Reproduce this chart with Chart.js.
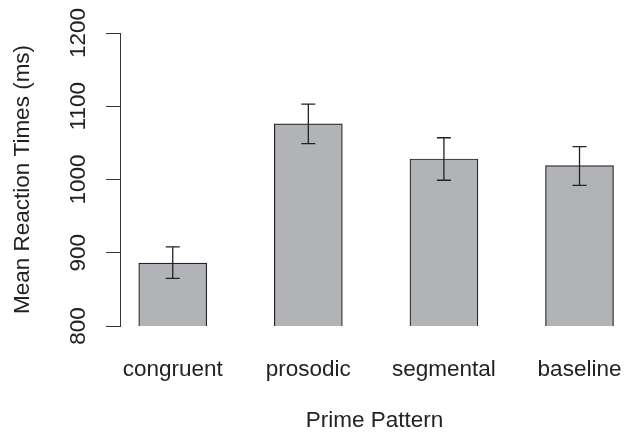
<!DOCTYPE html>
<html>
<head>
<meta charset="utf-8">
<script src="https://cdn.jsdelivr.net/npm/chart.js@4.4.1/dist/chart.umd.min.js"></script>
<style>
  html, body { margin: 0; padding: 0; background: #fff; }
  #wrap { width: 629px; height: 434px; }
</style>
</head>
<body>
<div id="wrap"><canvas id="myChart" width="629" height="434"></canvas></div>
<script>
const categories = ['congruent', 'prosodic', 'segmental', 'baseline'];
const means = [886, 1076, 1028, 1019];
const errLow = [865, 1049, 999, 992];
const errHigh = [908, 1103, 1057, 1045];
const yTicks = [800, 900, 1000, 1100, 1200];

const ink = '#222';
const font = { family: '"Liberation Sans", Arial, sans-serif', size: 22.5 };

// error bars drawn from the bar elements and the y scale
const errorBars = {
    id: 'errorBars',
    afterDatasetsDraw(chart) {
        const c = chart.ctx;
        const y = chart.scales.y;
        const bars = chart.getDatasetMeta(0).data;
        c.save();
        c.strokeStyle = ink;
        c.lineWidth = 1.3;
        bars.forEach(function(bar, i) {
            const top = y.getPixelForValue(errHigh[i]);
            const bot = y.getPixelForValue(errLow[i]);
            c.beginPath();
            c.moveTo(bar.x, top); c.lineTo(bar.x, bot);
            c.moveTo(bar.x - 7, top); c.lineTo(bar.x + 7, top);
            c.moveTo(bar.x - 7, bot); c.lineTo(bar.x + 7, bot);
            c.stroke();
        });
        c.restore();
    }
};

const ctx = document.getElementById('myChart');
const myChart = new Chart(ctx, {
    type: 'bar',
    data: {
        datasets: [{
            data: means.map(function(v, i){ return { x: i + 1, y: v }; }),
            backgroundColor: '#b2b3b7',
            borderColor: ink,
            borderWidth: 1.2,
            borderSkipped: false,
            barThickness: 68
        }]
    },
    options: {
        responsive: false,
        animation: false,
        layout: { padding: { top: 33, right: 0, left: 0, bottom: 0 } },
        plugins: { legend: { display: false }, tooltip: { enabled: false } },
        scales: {
            x: {
                type: 'linear',
                offset: false,
                min: 0.611,
                max: 4.365,
                afterBuildTicks: function(scale) {
                    scale.ticks = categories.map(function(c, i){ return { value: i + 1 }; });
                },
                afterFit: function(scale) {
                    scale.height = 108;
                    scale.paddingLeft = 0;
                    scale.paddingRight = 0;
                },
                grid: { display: false, drawTicks: false, offset: false },
                border: { display: false },
                ticks: {
                    autoSkip: false,
                    maxRotation: 0,
                    padding: 30,
                    color: ink,
                    font: font,
                    callback: function(v) { return categories[v - 1]; }
                },
                title: {
                    display: true,
                    text: 'Prime Pattern',
                    color: ink,
                    font: font,
                    padding: { top: 0, bottom: 0 }
                }
            },
            y: {
                min: 800,
                max: 1200,
                afterBuildTicks: function(scale) {
                    scale.ticks = yTicks.map(function(v){ return { value: v }; });
                },
                afterFit: function(scale) {
                    scale.width = 120;
                    scale.paddingTop = 0;
                    scale.paddingBottom = 0;
                },
                grid: { drawOnChartArea: false, drawTicks: true, tickLength: 14, color: '#333', lineWidth: 1 },
                border: { display: true, color: '#333', width: 1 },
                ticks: {
                    minRotation: 90,
                    maxRotation: 90,
                    crossAlign: 'center',
                    padding: 2,
                    color: ink,
                    font: font,
                    callback: function(v) { return String(v); }
                },
                title: {
                    display: true,
                    text: 'Mean Reaction Times (ms)',
                    color: ink,
                    font: font,
                    padding: { top: 9, bottom: 0 }
                }
            }
        }
    },
    plugins: [errorBars]
});
</script>
</body>
</html>
